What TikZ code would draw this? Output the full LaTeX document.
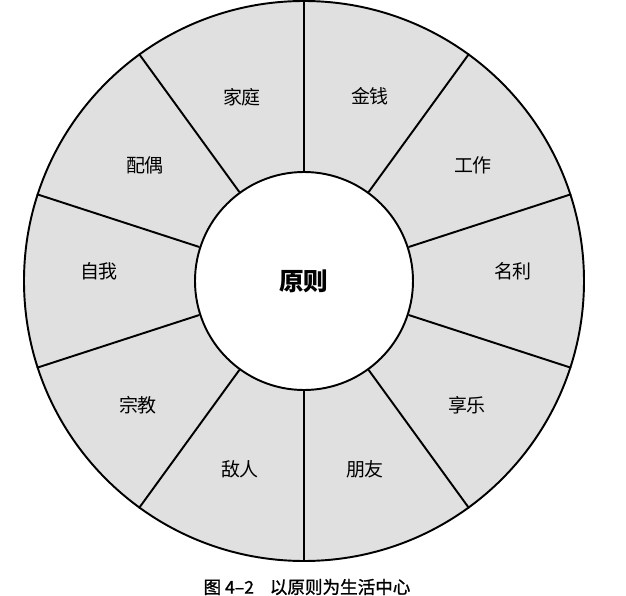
\documentclass[tikz,border=0pt]{standalone}
\usepackage{fontspec}
\setmainfont{Noto Sans CJK SC}
\newfontfamily\captionfont[FakeBold=1.2]{Noto Sans CJK SC}
\definecolor{ringgray}{RGB}{224,224,224}

\begin{document}
\begin{tikzpicture}[
  every node/.style={font=\fontsize{10.8pt}{13pt}\selectfont},
  line width=1.1pt
]
  \useasboundingbox (-6.08,-6.30) rectangle (6.44,5.62);

  \node[circle,draw,fill=ringgray,minimum size=11.2cm,inner sep=0pt] (lun) at (0,0) {};
  \node[circle,draw,fill=white,minimum size=4.36cm,inner sep=0pt,
        font=\fontsize{14pt}{16pt}\selectfont\bfseries] (yuanze) at (0,0) {原则};

  \draw (yuanze.90)   -- (lun.90);
  \draw (yuanze.54)   -- (lun.54);
  \draw (yuanze.18)   -- (lun.18);
  \draw (yuanze.-18)  -- (lun.-18);
  \draw (yuanze.-54)  -- (lun.-54);
  \draw (yuanze.-90)  -- (lun.-90);
  \draw (yuanze.-126) -- (lun.-126);
  \draw (yuanze.-162) -- (lun.-162);
  \draw (yuanze.162)  -- (lun.162);
  \draw (yuanze.126)  -- (lun.126);

  \node (jinqian) at (1.32,3.70)   {金钱};
  \node (gongzuo) at (3.38,2.32)   {工作};
  \node (mingli)  at (4.18,0.20)   {名利};
  \node (xiangle) at (3.26,-2.48)  {享乐};
  \node (pengyou) at (1.22,-3.76)  {朋友};
  \node (diren)   at (-1.28,-3.76) {敌人};
  \node (zongjiao) at (-3.32,-2.48) {宗教};
  \node (ziwo)    at (-4.10,0.20)  {自我};
  \node (peiou)   at (-3.18,2.32)  {配偶};
  \node (jiating) at (-1.24,3.68)  {家庭};

  \node[font=\fontsize{10pt}{12pt}\selectfont\captionfont] (caption) at (0.06,-6.12)
    {图 4–2\hspace{0.9em}以原则为生活中心};
\end{tikzpicture}
\end{document}
